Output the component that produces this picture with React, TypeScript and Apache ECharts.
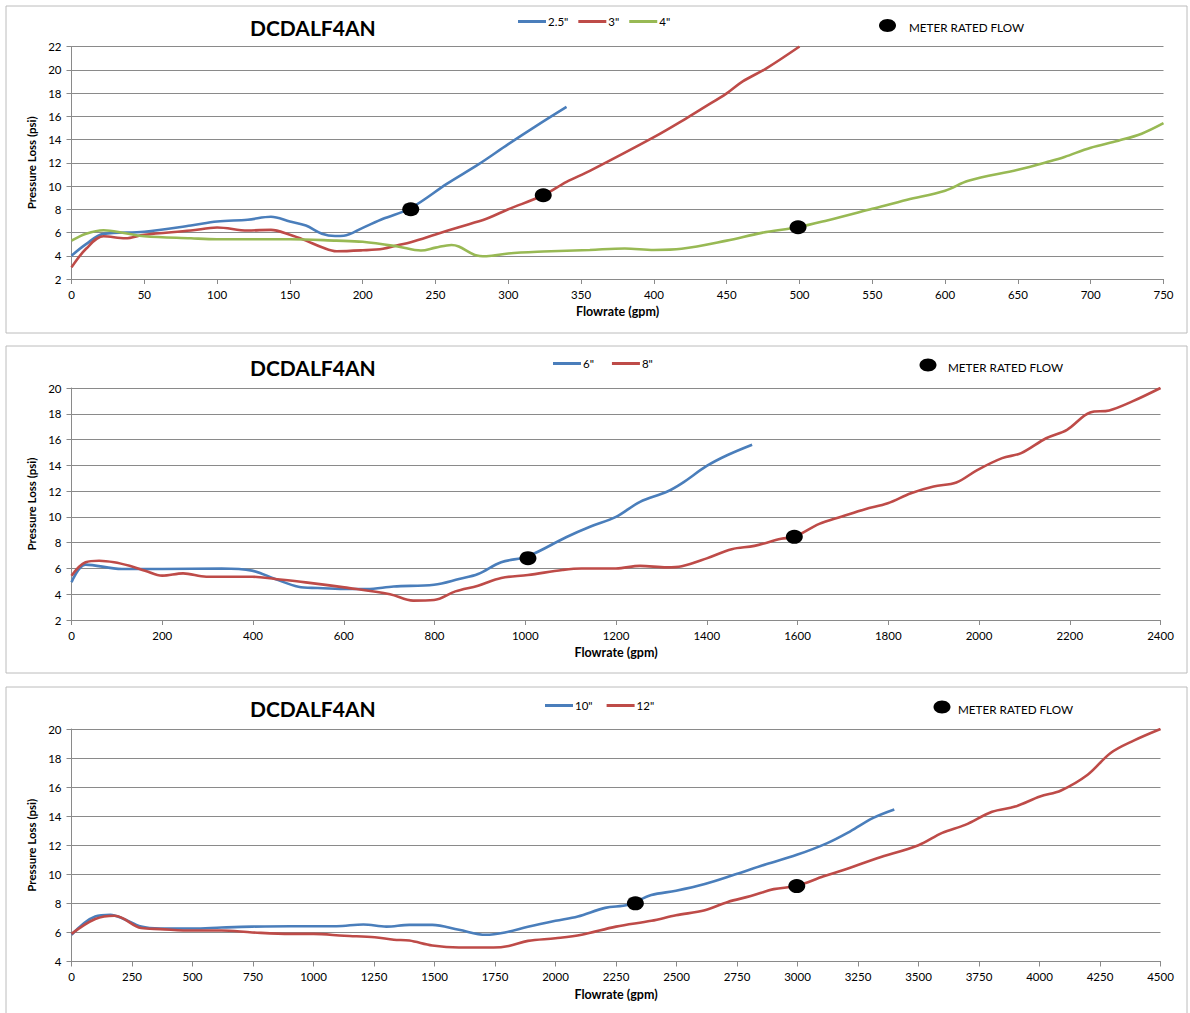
import React, { useEffect, useRef } from "react";
import * as echarts from "echarts";

// ---------- DATA ----------
const panelTitle = "DCDALF4AN";
const meterLabel = "METER RATED FLOW";
const xAxisName = "Flowrate (gpm)";
const yAxisName = "Pressure Loss (psi)";

// Panel 1 (2.5", 3", 4")
const flow25 = [0, 10, 22, 50, 82, 100, 121, 137, 150, 161, 172, 181, 187, 200, 214, 233, 258, 280, 300, 319, 340];
const psi25 = [4.0, 5.0, 5.88, 6.07, 6.6, 6.95, 7.1, 7.35, 6.95, 6.6, 5.9, 5.7, 5.72, 6.4, 7.18, 8.1, 10.2, 11.9, 13.6, 15.15, 16.8];

const flow3 = [0, 10, 22, 37, 50, 82, 100, 121, 137, 150, 161, 172, 182, 200, 214, 224, 233, 250, 266, 285, 300, 324, 340, 356, 400, 422, 435, 450, 461, 477, 500];
const psi3 = [3.0, 4.6, 5.68, 5.5, 5.8, 6.17, 6.43, 6.17, 6.23, 5.8, 5.3, 4.73, 4.39, 4.47, 4.6, 4.9, 5.17, 5.83, 6.46, 7.18, 8.0, 9.2, 10.35, 11.3, 14.2, 15.8, 16.8, 17.97, 19.0, 20.1, 22];

const flow4 = [0, 10, 22, 37, 50, 82, 100, 150, 182, 200, 224, 240, 250, 261, 266, 277, 285, 300, 324, 356, 380, 400, 419, 450, 474, 499, 519, 550, 574, 600, 616, 650, 672, 682, 700, 719, 735, 750];
const psi4 = [5.3, 5.9, 6.2, 5.94, 5.68, 5.5, 5.42, 5.42, 5.3, 5.2, 4.8, 4.45, 4.7, 4.93, 4.8, 4.07, 3.96, 4.2, 4.36, 4.5, 4.62, 4.5, 4.6, 5.3, 5.97, 6.46, 7.04, 8.04, 8.82, 9.6, 10.45, 11.4, 12.13, 12.5, 13.3, 13.9, 14.5, 15.4];

const meter1Flow = [233, 324, 499];
const meter1Psi = [8.0, 9.2, 6.45];

// Panel 2 (6", 8")
const flow6 = [0, 31, 111, 200, 331, 398, 449, 500, 542, 601, 651, 710, 799, 854, 896, 947, 1006, 1090, 1144, 1200, 1253, 1312, 1345, 1400, 1446, 1500];
const psi6 = [4.92, 6.3, 5.96, 5.96, 6.0, 5.83, 5.18, 4.58, 4.48, 4.4, 4.4, 4.6, 4.74, 5.18, 5.57, 6.48, 6.95, 8.42, 9.25, 10.0, 11.17, 11.95, 12.6, 13.95, 14.8, 15.6];

const flow8 = [0, 31, 61, 94, 128, 162, 200, 246, 297, 398, 449, 516, 601, 702, 753, 799, 846, 896, 947, 1006, 1082, 1124, 1200, 1253, 1312, 1345, 1400, 1455, 1505, 1564, 1593, 1648, 1698, 1749, 1799, 1850, 1900, 1950, 1997, 2051, 2093, 2148, 2194, 2245, 2287, 2338, 2400];
const psi8 = [5.44, 6.48, 6.6, 6.48, 6.2, 5.83, 5.44, 5.62, 5.36, 5.36, 5.18, 4.92, 4.53, 4.0, 3.5, 3.55, 4.22, 4.66, 5.26, 5.49, 5.88, 6.0, 6.0, 6.2, 6.08, 6.17, 6.78, 7.49, 7.75, 8.3, 8.45, 9.46, 10.03, 10.6, 11.06, 11.84, 12.36, 12.67, 13.65, 14.56, 14.95, 16.1, 16.76, 18.1, 18.26, 18.96, 20];

const meter2Flow = [1006, 1593];
const meter2Psi = [6.8, 8.45];

// Panel 3 (10", 12")
const flow10 = [0, 98, 161, 209, 288, 367, 502, 620, 747, 905, 1095, 1206, 1301, 1396, 1491, 1601, 1712, 1791, 1886, 2000, 2092, 2205, 2301, 2396, 2498, 2617, 2744, 2870, 2997, 3123, 3218, 3313, 3400];
const psi10 = [5.84, 7.1, 7.21, 6.98, 6.4, 6.27, 6.27, 6.34, 6.4, 6.43, 6.43, 6.55, 6.4, 6.52, 6.52, 6.18, 5.84, 6.0, 6.39, 6.8, 7.1, 7.69, 7.9, 8.57, 8.87, 9.33, 10.0, 10.69, 11.34, 12.15, 12.96, 13.88, 14.46];

const flow12 = [0, 98, 177, 209, 288, 367, 502, 620, 747, 905, 1000, 1127, 1253, 1332, 1396, 1491, 1601, 1744, 1807, 1886, 2000, 2108, 2250, 2396, 2498, 2617, 2712, 2807, 2902, 2994, 3108, 3187, 3329, 3500, 3598, 3693, 3804, 3899, 4002, 4089, 4199, 4294, 4389, 4500];
const psi12 = [5.9, 6.92, 7.15, 7.0, 6.3, 6.23, 6.13, 6.13, 6.0, 5.9, 5.9, 5.77, 5.67, 5.5, 5.44, 5.1, 4.96, 4.96, 5.07, 5.42, 5.6, 5.84, 6.4, 6.8, 7.18, 7.53, 8.1, 8.5, 8.98, 9.19, 9.86, 10.28, 11.1, 12.0, 12.85, 13.4, 14.3, 14.66, 15.35, 15.77, 16.85, 18.35, 19.2, 20];

const meter3Flow = [2330, 2997];
const meter3Psi = [8.0, 9.19];

const panelSeries = [
  [
    { name: '2.5"', flow: flow25, psi: psi25 },
    { name: '3"', flow: flow3, psi: psi3 },
    { name: '4"', flow: flow4, psi: psi4 },
  ],
  [
    { name: '6"', flow: flow6, psi: psi6 },
    { name: '8"', flow: flow8, psi: psi8 },
  ],
  [
    { name: '10"', flow: flow10, psi: psi10 },
    { name: '12"', flow: flow12, psi: psi12 },
  ],
];
const panelMeters = [
  { flow: meter1Flow, psi: meter1Psi },
  { flow: meter2Flow, psi: meter2Psi },
  { flow: meter3Flow, psi: meter3Psi },
];
const xRanges = [
  { min: 0, max: 750, interval: 50 },
  { min: 0, max: 2400, interval: 200 },
  { min: 0, max: 4500, interval: 250 },
];
const yRanges = [
  { min: 2, max: 22, interval: 2 },
  { min: 2, max: 20, interval: 2 },
  { min: 4, max: 20, interval: 2 },
];

// ---------- STYLE / LAYOUT ----------
const FONT = "Lato, 'Liberation Sans', sans-serif";
const COLORS = ["#4A7EBB", "#BE4B48", "#98B954"];
const SIZE_COLORS = [
  [COLORS[0], COLORS[1], COLORS[2]],
  [COLORS[0], COLORS[1]],
  [COLORS[0], COLORS[1]],
];
const GRID_COLOR = "#8a8a8a";

const layout = [
  { boxTop: 6, boxH: 327, gridTop: 46.5, gridH: 232.5, gridW: 1092, legendLeft: 518, legendTop: 15.5, legendGap: 10, dotX: 887.5, dotY: 25.5, textX: 909 },
  { boxTop: 346, boxH: 327, gridTop: 388, gridH: 232, gridW: 1089, legendLeft: 553, legendTop: 357.5, legendGap: 18, dotX: 928, dotY: 365, textX: 948 },
  { boxTop: 687, boxH: 340, gridTop: 729, gridH: 232.5, gridW: 1089, legendLeft: 545, legendTop: 699.5, legendGap: 14, dotX: 942, dotY: 707, textX: 958 },
];

function buildOption() {
  const grids: any[] = [];
  const xAxes: any[] = [];
  const yAxes: any[] = [];
  const series: any[] = [];
  const titles: any[] = [];
  const legends: any[] = [];
  const graphics: any[] = [];

  layout.forEach((L, i) => {
    graphics.push({
      type: "rect",
      shape: { x: 6, y: L.boxTop, width: 1181, height: L.boxH },
      style: { fill: "#fff", stroke: "#bcbcbc", lineWidth: 1 },
      z: -10,
      silent: true,
    });
    graphics.push({
      type: "ellipse",
      shape: { cx: L.dotX, cy: L.dotY, rx: 8.5, ry: 6.5 },
      style: { fill: "#000" },
    });
    graphics.push({
      type: "text",
      x: L.textX,
      y: L.dotY + 1.5,
      style: {
        text: meterLabel,
        fill: "#000",
        font: `11.7px ${FONT}`,
        verticalAlign: "middle",
      },
    });

    grids.push({ left: 71.5, top: L.gridTop, width: L.gridW, height: L.gridH, containLabel: false });
    titles.push({
      text: panelTitle,
      left: 250,
      top: L.boxTop + 11,
      padding: 0,
      textStyle: { fontFamily: FONT, fontWeight: "bold", fontSize: 21, color: "#000" },
    });
    legends.push({
      left: L.legendLeft,
      top: L.legendTop,
      padding: 0,
      itemGap: L.legendGap,
      itemWidth: 28,
      itemHeight: 3,
      icon: "rect",
      selectedMode: false,
      data: panelSeries[i].map((s) => s.name),
      textStyle: { fontFamily: FONT, fontSize: 11.5, color: "#000", padding: [0, 0, 0, -3] },
    });
    xAxes.push({
      type: "value",
      gridIndex: i,
      min: xRanges[i].min,
      max: xRanges[i].max,
      interval: xRanges[i].interval,
      name: xAxisName,
      nameLocation: "middle",
      nameGap: 26,
      nameTextStyle: { fontFamily: FONT, fontWeight: "bold", fontSize: 12.5, color: "#000" },
      axisLine: { show: true, lineStyle: { color: GRID_COLOR, width: 1 } },
      axisTick: { show: true, length: 5, lineStyle: { color: GRID_COLOR } },
      splitLine: { show: false },
      axisLabel: {
        fontFamily: FONT,
        fontSize: 11.5,
        color: "#000",
        margin: 9,
        formatter: (v: number) => String(v),
      },
    });
    yAxes.push({
      type: "value",
      gridIndex: i,
      min: yRanges[i].min,
      max: yRanges[i].max,
      interval: yRanges[i].interval,
      name: yAxisName,
      nameLocation: "middle",
      nameGap: 32,
      nameTextStyle: { fontFamily: FONT, fontWeight: "bold", fontSize: 11.5, color: "#000" },
      axisLine: { show: true, lineStyle: { color: GRID_COLOR, width: 1 } },
      axisTick: { show: true, length: 5, lineStyle: { color: GRID_COLOR } },
      splitLine: { show: true, lineStyle: { color: GRID_COLOR, width: 1 } },
      axisLabel: {
        fontFamily: FONT,
        fontSize: 11.5,
        color: "#000",
        margin: 10,
        formatter: (v: number) => String(v),
      },
    });

    panelSeries[i].forEach((s, j) => {
      series.push({
        type: "line",
        name: s.name,
        xAxisIndex: i,
        yAxisIndex: i,
        data: s.flow.map((f, k) => [f, s.psi[k]]),
        smooth: 0.35,
        showSymbol: false,
        symbol: "none",
        color: SIZE_COLORS[i][j],
        lineStyle: { width: 2.6, color: SIZE_COLORS[i][j] },
        z: 2,
      });
    });
    series.push({
      type: "scatter",
      name: meterLabel,
      xAxisIndex: i,
      yAxisIndex: i,
      data: panelMeters[i].flow.map((f, k) => [f, panelMeters[i].psi[k]]),
      symbol: "circle",
      symbolSize: [17, 14],
      itemStyle: { color: "#000", opacity: 1 },
      z: 5,
    });
  });

  return {
    animation: false,
    backgroundColor: "#fff",
    title: titles,
    legend: legends,
    grid: grids,
    xAxis: xAxes,
    yAxis: yAxes,
    series,
    graphic: graphics,
  };
}

export default function App() {
  const ref = useRef<HTMLDivElement>(null);
  useEffect(() => {
    if (!ref.current) return;
    const chart = echarts.init(ref.current, undefined, { renderer: "svg" });
    chart.setOption(buildOption() as any);
    return () => chart.dispose();
  }, []);
  return (
    <div
      ref={ref}
      style={{ position: "absolute", left: 0, top: 0, width: 1190, height: 1013, background: "#fff" }}
    />
  );
}
